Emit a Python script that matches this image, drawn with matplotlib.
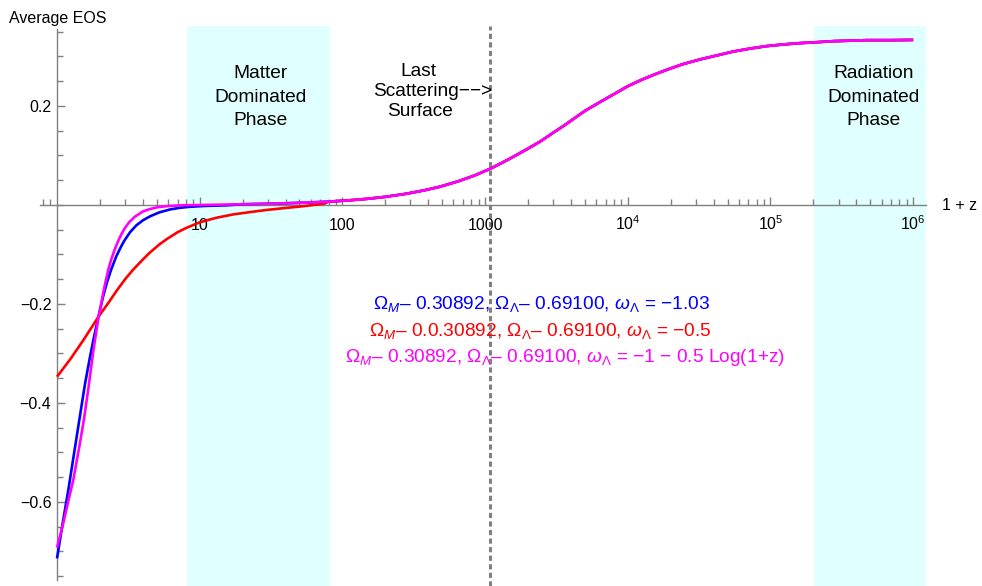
import matplotlib
matplotlib.use('Agg')
import numpy as np
import matplotlib.pyplot as plt
from matplotlib.ticker import FixedLocator, FixedFormatter, NullFormatter

plt.rcParams['font.family'] = ['Liberation Sans', 'DejaVu Sans']
plt.rcParams['mathtext.fontset'] = 'custom'
plt.rcParams['mathtext.rm'] = 'Liberation Sans'
plt.rcParams['mathtext.it'] = 'Liberation Sans:italic'
plt.rcParams['mathtext.bf'] = 'Liberation Sans:bold'
plt.rcParams['mathtext.sf'] = 'Liberation Sans'

# values (x is 1 + z)
z_blue = [1.0, 1.1, 1.2, 1.3, 1.4, 1.5, 1.57, 1.7, 1.8, 1.95, 2.1, 2.23, 2.4, 2.6, 2.8,
          2.95, 3.25, 3.6, 4.0, 4.48, 5.2, 6.2, 7.2, 8.55, 11.0, 15.0]
eos_blue = [-0.714, -0.640, -0.576, -0.512, -0.453, -0.398, -0.362, -0.308, -0.272, -0.226,
            -0.186, -0.158, -0.130, -0.104, -0.085, -0.073, -0.055, -0.041, -0.031, -0.023,
            -0.015, -0.009, -0.0058, -0.0036, -0.0018, -0.0008]

z_red = [1.0, 1.25, 1.53, 1.95, 2.3, 2.62, 3.0, 3.43, 4.0, 4.48, 5.2, 5.87, 7.0, 8.1, 10.0,
         13.0, 17.2, 23.0, 29.5, 40.0, 55.0, 75.0]
eos_red = [-0.347, -0.31, -0.273, -0.226, -0.197, -0.173, -0.150, -0.130, -0.110, -0.096,
           -0.080, -0.069, -0.055, -0.046, -0.035, -0.026, -0.019, -0.014, -0.010, -0.006,
           -0.002, 0.003]

z_mag = [1.0, 1.106, 1.2, 1.3, 1.45, 1.55, 1.66, 1.8, 1.95, 2.0, 2.1, 2.2, 2.3, 2.4, 2.5,
         2.6, 2.7, 2.85, 3.0, 3.2, 3.5, 4.0, 4.5, 5.0, 6.0, 7.7]
eos_mag = [-0.692, -0.643, -0.598, -0.556, -0.48, -0.43, -0.370, -0.293, -0.228, -0.213,
           -0.180, -0.152, -0.128, -0.110, -0.095, -0.082, -0.071, -0.057, -0.046, -0.035,
           -0.024, -0.013, -0.008, -0.0048, -0.002, -0.0005]

# shared high-z part, all three models coincide here
z_tail = [10, 20, 35, 55, 80, 110, 150, 200, 282, 380, 483, 650, 850, 1113, 1500, 2000,
          2425, 3000, 3600, 4170, 5000, 6390, 8000, 10000, 12500, 15500, 18700, 24000,
          32000, 42000, 54800, 72000, 94000, 125000, 161000, 215000, 276000, 370000,
          472000, 700000, 1.0e6]
eos_tail = [0.0, 0.0015, 0.003, 0.0047, 0.0068, 0.0093, 0.0125, 0.0165, 0.0228, 0.030,
            0.037, 0.048, 0.060, 0.0746, 0.094, 0.114, 0.128, 0.146, 0.161, 0.174, 0.190,
            0.208, 0.224, 0.240, 0.253, 0.264, 0.273, 0.284, 0.294, 0.302, 0.310, 0.316,
            0.321, 0.3245, 0.327, 0.329, 0.331, 0.332, 0.333, 0.333, 0.3335]

z_lss = 1090
matter_phase = (8.15, 82)
radiation_phase = (2.02e5, 1.23e6)

x_major = [10, 100, 1000, 1e4, 1e5, 1e6]
x_labels = ['10', '100', '1000', '$10^{4}$', '$10^{5}$', '$10^{6}$']
y_major = [-0.6, -0.4, -0.2, 0.2]
y_labels = ['\u22120.6', '\u22120.4', '\u22120.2', '0.2']


def join_tail(z, eos):
    tz = np.array(z_tail)
    te = np.array(eos_tail)
    keep = tz > z[-1]
    return np.concatenate([z, tz[keep]]), np.concatenate([eos, te[keep]])


fig = plt.figure(figsize=(9.82, 5.86), dpi=100)
ax = fig.add_axes([40 / 982, 0, (926 - 40) / 982, (586 - 26) / 586])
ax.set_xscale('log')
ax.set_xlim(0.76, 1.23e6)
ax.set_ylim(-0.7697, 0.3616)

cyan = '#e0ffff'
ax.axvspan(*matter_phase, color=cyan, lw=0, zorder=0)
ax.axvspan(*radiation_phase, color=cyan, lw=0, zorder=0)
ax.axvline(z_lss, color='#808080', lw=2.2, ls=(0, (1.7, 1.1)), zorder=1)

for z, eos, col in [(z_blue, eos_blue, '#0000ff'), (z_red, eos_red, '#ff0000'), (z_mag, eos_mag, '#ff00ff')]:
    xx, yy = join_tail(z, eos)
    ax.plot(xx, yy, color=col, lw=1.9, solid_capstyle='butt', solid_joinstyle='round', zorder=3)

# axes crossing at (1, 0)
for s in ['top', 'right']:
    ax.spines[s].set_visible(False)
ax.spines['bottom'].set_position(('data', 0))
ax.spines['left'].set_position(('data', 1))
ax.spines['left'].set_bounds(-0.757, 0.355)
for s in ['bottom', 'left']:
    ax.spines[s].set_color('#808080')
    ax.spines[s].set_linewidth(1.0)

ax.xaxis.set_major_locator(FixedLocator(x_major))
ax.xaxis.set_major_formatter(FixedFormatter(x_labels))
ax.xaxis.set_minor_formatter(NullFormatter())
ax.yaxis.set_major_locator(FixedLocator(y_major))
ax.yaxis.set_major_formatter(FixedFormatter(y_labels))
ax.yaxis.set_minor_locator(FixedLocator(np.arange(-0.75, 0.36, 0.05)))
ax.tick_params(which='both', direction='in', color='#808080', width=1.0, labelsize=11.5)
ax.tick_params(which='major', length=6)
ax.tick_params(which='minor', length=4)
ax.tick_params(axis='x', which='major', pad=18)
ax.tick_params(axis='y', which='major', pad=4)
for t in ax.get_xticklabels():
    t.set_verticalalignment('baseline')

fig.text(960 / 982, 1 - 205 / 586, '1 + z', fontsize=11.5, ha='center', va='center')
fig.text(9 / 982, 1 - 18 / 586, 'Average EOS', fontsize=11.5, ha='left', va='center')

tfs = 13.8
ax.text(26.5, 0.218, 'Matter\nDominated\nPhase', fontsize=tfs, ha='center', va='center',
        linespacing=1.5)
ax.text(5.3e5, 0.218, 'Radiation\nDominated\nPhase', fontsize=tfs, ha='center', va='center',
        linespacing=1.5)
ax.text(340, (205 - 72) / 495, 'Last', fontsize=tfs, ha='center', va='center')
ax.text(431, (205 - 92) / 495, 'Scattering\u2212\u2212>', fontsize=tfs, ha='center', va='center')
ax.text(352, (205 - 112) / 495, 'Surface', fontsize=tfs, ha='center', va='center')

ax.text(2505, -0.2, r'$\Omega_M$– 0.30892, $\Omega_\Lambda$– 0.69100, $\omega_\Lambda$ = −1.03',
        color='#0000ff', fontsize=tfs, ha='center', va='center')
ax.text(2426, -0.2545, r'$\Omega_M$– 0.0.30892, $\Omega_\Lambda$– 0.69100, $\omega_\Lambda$ = −0.5',
        color='#ff0000', fontsize=tfs, ha='center', va='center')
ax.text(3630, -0.309, r'$\Omega_M$– 0.30892, $\Omega_\Lambda$– 0.69100, $\omega_\Lambda$ = −1 − 0.5 Log(1+z)',
        color='#ff00ff', fontsize=tfs, ha='center', va='center')

fig.savefig('out.png', dpi=100)
